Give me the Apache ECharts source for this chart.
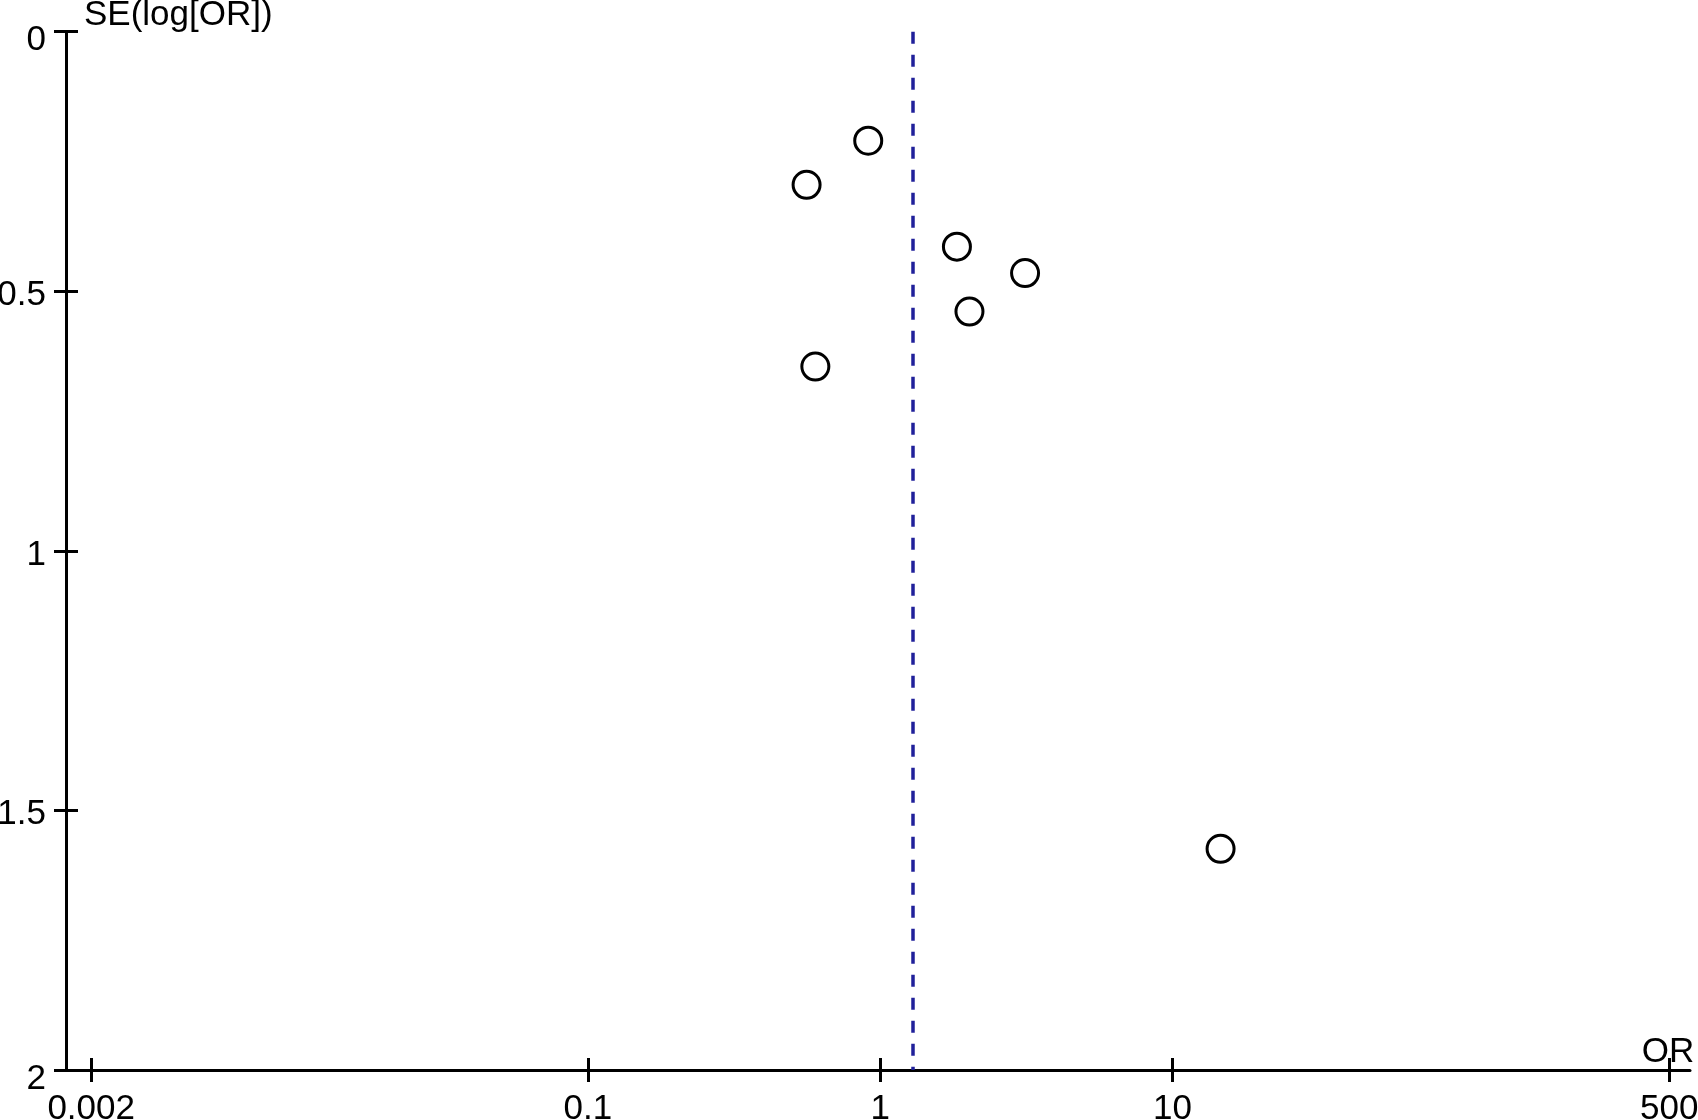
<!DOCTYPE html>
<html>
<head>
<meta charset="utf-8">
<script src="https://cdn.jsdelivr.net/npm/echarts@6/dist/echarts.min.js"></script>
<style>
html,body{margin:0;padding:0;background:#fff;}
#chart{width:1698px;height:1120px;}
</style>
</head>
<body>
<div id="chart"></div>
<script>
// Study odds ratios and standard errors of log(OR)
const orValues = [0.91, 0.56, 1.83, 3.13, 2.02, 0.60, 14.6];
const seValues = [0.21, 0.295, 0.414, 0.465, 0.539, 0.645, 1.574];
const pooledOR = [1.29];
const xTickValues = [0.002, 0.1, 1, 10, 500];
const yTickValues = [0, 0.5, 1, 1.5, 2];
const xName = 'OR';
const yName = 'SE(log[OR])';

const FONT = '"Liberation Sans", Arial, Helvetica, sans-serif';
const FS = 35;
const points = orValues.map((v, i) => [v, seValues[i]]);

const GRID = {left: 66, right: 8, top: 31.7, bottom: 50};
const gridW = 1698 - GRID.left - GRID.right;
const gridH = 1120 - GRID.top - GRID.bottom;

const chart = echarts.init(document.getElementById('chart'), null, {renderer: 'canvas'});

const baseX = {
  type: 'log', logBase: 10, min: 0.00164, max: 589, gridIndex: 0,
  splitLine: {show: false}, minorTick: {show: false}
};
const baseY = {
  type: 'value', inverse: true, min: 0, max: 2, interval: 0.5, gridIndex: 0,
  splitLine: {show: false}
};
const tickStyle = {color: '#000', width: 3};
const yEdge = [yTickValues[0], yTickValues[yTickValues.length - 1]];

chart.setOption({
  animation: false,
  backgroundColor: '#fff',
  grid: Object.assign({containLabel: false, outerBoundsMode: 'none'}, GRID),
  xAxis: [
    Object.assign({}, baseX, {
      position: 'bottom',
      name: xName, nameLocation: 'end', nameGap: -22,
      nameTextStyle: {fontFamily: FONT, fontSize: FS, color: '#000', align: 'center', verticalAlign: 'bottom', padding: [0, 0, 0, 0]},
      axisLine: {show: true, onZero: false, lineStyle: {color: '#000', width: 3}},
      axisTick: {show: true, inside: false, length: 12, lineStyle: tickStyle, customValues: xTickValues},
      axisLabel: {show: true, margin: 22, fontFamily: FONT, fontSize: FS, color: '#000', customValues: xTickValues,
        formatter: v => String(v)}
    }),
    Object.assign({}, baseX, {
      position: 'top', offset: -gridH,
      axisLine: {show: false},
      axisTick: {show: true, inside: false, length: 12, lineStyle: tickStyle, customValues: xTickValues},
      axisLabel: {show: false}
    })
  ],
  yAxis: [
    Object.assign({}, baseY, {
      position: 'left',
      name: yName, nameLocation: 'start', nameGap: 16,
      nameTextStyle: {fontFamily: FONT, fontSize: FS, color: '#000', align: 'left', verticalAlign: 'middle', padding: [0, 0, 0, 18]},
      axisLine: {show: true, onZero: false, lineStyle: {color: '#000', width: 3}},
      axisTick: {show: true, inside: false, length: 12, lineStyle: tickStyle, customValues: yTickValues},
      axisLabel: {show: true, margin: 20, fontFamily: FONT, fontSize: FS, color: '#000', customValues: yTickValues,
        padding: [8, 0, 0, 0],
        verticalAlign: 'middle', verticalAlignMinLabel: 'middle', verticalAlignMaxLabel: 'middle',
        formatter: v => yEdge.indexOf(v) >= 0 ? '{e|' + v + '}' : String(v),
        rich: {e: {fontFamily: FONT, fontSize: FS, color: '#000', padding: [10, 0, 0, 0]}}}
    }),
    Object.assign({}, baseY, {
      position: 'right', offset: -gridW,
      axisLine: {show: false},
      axisTick: {show: true, inside: false, length: 12, lineStyle: tickStyle, customValues: yTickValues},
      axisLabel: {show: false}
    })
  ],
  series: [{
    type: 'scatter',
    xAxisIndex: 0, yAxisIndex: 0,
    data: points,
    symbol: 'circle',
    symbolSize: 27,
    itemStyle: {color: '#fff', borderColor: '#000', borderWidth: 3, opacity: 1},
    emphasis: {disabled: true},
    z: 5,
    markLine: {
      silent: true, symbol: 'none', animation: false,
      label: {show: false},
      lineStyle: {color: '#20209a', width: 3.5, type: [12, 11]},
      data: pooledOR.map(v => ({xAxis: v}))
    }
  }]
});
</script>
</body>
</html>
